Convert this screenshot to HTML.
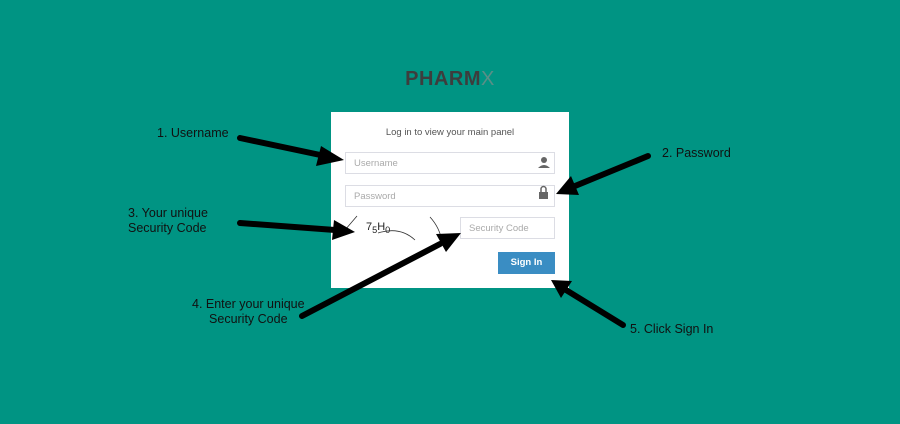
<!DOCTYPE html>
<html><head><meta charset="utf-8"><style>
html,body{margin:0;padding:0}
body{width:900px;height:424px;background:#009483;position:relative;overflow:hidden;font-family:"Liberation Sans",sans-serif}
.abs{position:absolute}
.logo{left:0;width:900px;top:68px;text-align:center;font-size:20px;font-weight:bold;color:#3d3d3d;letter-spacing:0.5px}
.logo span{font-weight:normal;color:#5a8f87}
.card{left:331px;top:112px;width:238px;height:176px;background:#fff}
.t{left:331px;width:238px;top:127px;text-align:center;font-size:9.5px;color:#555}
.f{background:#fff;border:1px solid #dcdde4;box-sizing:border-box;font-size:9.5px;color:#aaa;padding-left:8px;line-height:21px}
.btn{left:498px;top:252px;width:57px;height:22px;background:#3a8dc3;color:#fff;font-size:9.5px;font-weight:bold;text-align:center;line-height:22px}
.lab{font-size:12.5px;color:#111;line-height:15px}
</style></head><body>
<div class="abs logo">PHARM<span>X</span></div>
<div class="abs card"></div>
<div class="abs t">Log in to view your main panel</div>
<div class="abs f" style="left:345px;top:152px;width:210px;height:22px">Username</div>
<div class="abs f" style="left:345px;top:185px;width:210px;height:22px">Password</div>
<div class="abs f" style="left:460px;top:217px;width:95px;height:22px">Security Code</div>
<div class="abs btn">Sign In</div>
<div class="abs" style="left:366px;top:221px;font-size:11px;color:#222">7<sub>5</sub>H<sub>0</sub></div>
<svg class="abs" style="left:0;top:0" width="900" height="424">
<g fill="#666"><circle cx="544" cy="160" r="3"/><path d="M538 168 Q544 162 550 168 Z"/><rect x="539" y="192" width="9" height="7"/></g>
<path d="M541 192 v-3 a2.5 2.5 0 0 1 5 0 v3" stroke="#666" stroke-width="1.5" fill="none"/>
<path d="M345 230 l12 -14 M378 233 Q400 226 415 240 M430 217 Q440 228 442 242" stroke="#333" stroke-width="0.8" fill="none"/>
<g stroke="#000" stroke-width="6" stroke-linecap="round" fill="none">
<line x1="240" y1="138" x2="325" y2="156"/>
<line x1="648" y1="156" x2="575" y2="186"/>
<line x1="240" y1="223" x2="335" y2="230"/>
<line x1="302" y1="316" x2="440" y2="244"/>
<line x1="623" y1="325" x2="566" y2="290"/>
</g>
<g fill="#000">
<polygon points="344,160 321,146 316,166"/>
<polygon points="556,194 571,176 579,195"/>
<polygon points="355,232 334,220 332,240"/>
<polygon points="461,233 436,234 446,252"/>
<polygon points="551,280 561,298 572,281"/>
</g>
</svg>
<div class="abs lab" style="left:157px;top:126px">1. Username</div>
<div class="abs lab" style="left:662px;top:146px">2. Password</div>
<div class="abs lab" style="left:128px;top:206px">3. Your unique<br>Security Code</div>
<div class="abs lab" style="left:192px;top:297px;text-align:center">4. Enter your unique<br>Security Code</div>
<div class="abs lab" style="left:630px;top:322px">5. Click Sign In</div>
</body></html>
